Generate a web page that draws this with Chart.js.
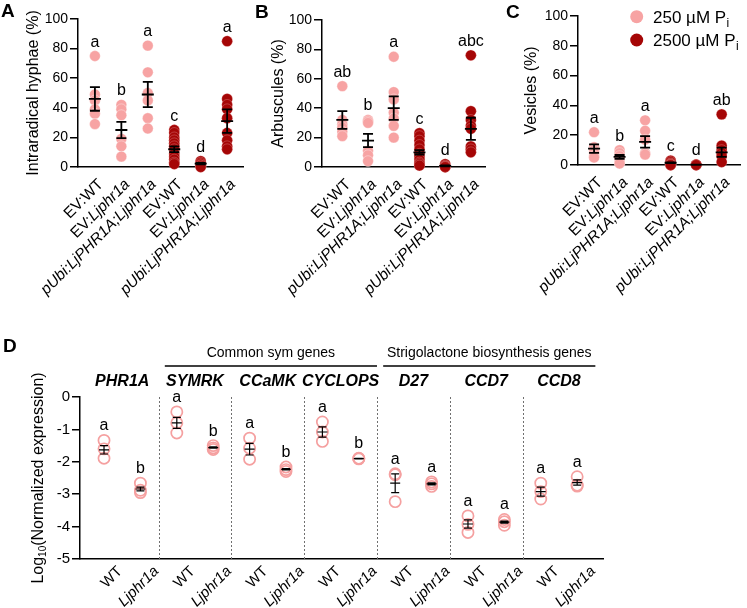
<!DOCTYPE html>
<html>
<head>
<meta charset="utf-8">
<script src="https://cdn.jsdelivr.net/npm/chart.js@4.4.1/dist/chart.umd.min.js"></script>
<style>
html,body{margin:0;padding:0;background:#fff;}
#wrap{position:relative;width:747px;height:608px;overflow:hidden;background:#fff;}
canvas{position:absolute;}
</style>
</head>
<body>
<div id="wrap">
<canvas id="cA" width="252" height="302" style="left:0px;top:0px;"></canvas>
<canvas id="cB" width="240" height="302" style="left:252px;top:0px;"></canvas>
<canvas id="cC" width="247" height="302" style="left:500px;top:0px;"></canvas>
<canvas id="cD" width="747" height="308" style="left:0px;top:300px;"></canvas>
</div>
<script>
// ---------------- data ----------------
const categories = ['EV:WT', 'EV:Ljphr1a', 'pUbi:LjPHR1A;Ljphr1a', 'EV:WT', 'EV:Ljphr1a', 'pUbi:LjPHR1A;Ljphr1a'];
const yTicksPercent = [0, 20, 40, 60, 80, 100];
const legendLabels = ['250 µM P', '2500 µM P'];
const legendSub = 'i';

// Panel A: intraradical hyphae (%)
const hyphae250 = [[75, 49, 45, 39, 36, 29], [42, 39, 35, 19, 14, 7], [82, 64, 50, 45, 33, 26]];
const hyphae2500 = [[25, 23, 20, 18, 16, 14, 12, 9, 7, 5, 3, 2], [4, 3, 2, 1, 1, 0], [85, 46, 42, 39, 33, 23, 18, 14, 12]];
const hyphaeMean = [46, 25, 49, 12, 2.3, 31];
const hyphaeSem = [8, 5.5, 8.5, 2, 0.5, 8];
const hyphaeLetters = ['a', 'b', 'a', 'c', 'd', 'a'];

// Panel B: arbuscules (%)
const arb250 = [[55, 32, 29, 27, 24, 21], [32, 31, 30, 11, 8, 4], [75, 51, 46, 37, 33, 28, 20]];
const arb2500 = [[23, 21, 18, 15, 12, 9, 7, 5, 3, 2, 1], [2, 1, 0.5, 0, 0], [76, 38, 32, 28, 26, 14, 12, 10]];
const arbMean = [32, 18, 40, 10, 0.8, 26];
const arbSem = [6, 4.5, 8, 1.5, 0.3, 7.5];
const arbLetters = ['ab', 'b', 'a', 'c', 'd', 'abc'];

// Panel C: vesicles (%)
const ves250 = [[22, 12, 10, 8, 6, 5], [10, 8, 6, 4, 2, 1], [30, 23, 17, 8, 7]];
const ves2500 = [[3, 2, 1, 0.5, 0, 0], [0.3, 0.2, 0, 0], [34, 13, 10, 8, 6, 2]];
const vesMean = [11, 5.4, 15.5, 1.5, 0.2, 8.5];
const vesSem = [2.8, 1.3, 3.9, 0.3, 0.1, 3.1];
const vesLetters = ['a', 'b', 'a', 'c', 'd', 'ab'];

// Panel D: log10 normalized expression
const genes = ['PHR1A', 'SYMRK', 'CCaMK', 'CYCLOPS', 'D27', 'CCD7', 'CCD8'];
const genotypes = ['WT', 'Ljphr1a'];
const geneGroupLabels = ['Common sym genes', 'Strigolactone biosynthesis genes'];
const geneGroupFirst = [1, 4];
const geneGroupLast = [3, 6];
const yTicksExpr = [0, -1, -2, -3, -4, -5];
const exprWT = [[-1.34, -1.60, -1.89], [-0.46, -0.80, -1.11], [-1.27, -1.58, -1.92], [-0.77, -1.08, -1.37], [-2.37, -2.40, -3.23], [-3.67, -3.93, -4.18], [-2.66, -2.92, -3.15]];
const exprMut = [[-2.66, -2.88, -2.95], [-1.50, -1.57, -1.62], [-2.16, -2.24, -2.30], [-1.89, -1.90, -1.91], [-2.62, -2.68, -2.76], [-3.78, -3.85, -3.96], [-2.46, -2.72, -2.75]];
const exprMeanWT = [-1.63, -0.80, -1.61, -1.08, -2.66, -3.92, -2.92];
const exprSemWT = [0.13, 0.17, 0.18, 0.16, 0.29, 0.13, 0.14];
const exprMeanMut = [-2.84, -1.56, -2.23, -1.90, -2.68, -3.86, -2.64];
const exprSemMut = [0.06, 0.02, 0.02, 0.01, 0.03, 0.03, 0.08];
const lettersWT = ['a', 'a', 'a', 'a', 'a', 'a', 'a'];
const lettersMut = ['b', 'b', 'b', 'b', 'a', 'a', 'a'];

// ---------------- style ----------------
const FONT = "'Liberation Sans', Arial, Helvetica, sans-serif";
const LIGHT = '#F7A3A3';
const DARK = '#A50606';
const OPEN = '#F5A0A0';
Chart.defaults.font.family = FONT;
Chart.defaults.color = '#000';
Chart.defaults.animation = false;

function fnt(size, bold, italic) {
  return (italic ? 'italic ' : '') + (bold ? 'bold ' : '') + size + 'px ' + FONT;
}

function labelParts(label) {
  const idx = label.indexOf(':');
  const pre = label.slice(0, idx);
  if (pre === 'EV') {
    const rest = label.slice(idx + 1);
    return [['EV:', false], [rest, rest !== 'WT']];
  }
  return [[label, true]];
}

function drawRotLabel(ctx, parts, x, y, size) {
  ctx.save();
  ctx.translate(x, y);
  ctx.rotate(-Math.PI / 4);
  ctx.textBaseline = 'middle';
  ctx.textAlign = 'left';
  ctx.fillStyle = '#000';
  const widths = parts.map(([t, it]) => { ctx.font = fnt(size, false, it); return ctx.measureText(t).width; });
  const total = widths.reduce((a, b) => a + b, 0);
  let cx = -total;
  parts.forEach(([t, it], k) => { ctx.font = fnt(size, false, it); ctx.fillText(t, cx, 0); cx += widths[k]; });
  ctx.restore();
}

function drawErrorBars(chart, xs, means, sems, lw, cap, meanW) {
  const {ctx, scales: {x, y}} = chart;
  ctx.save();
  ctx.strokeStyle = '#000';
  ctx.lineWidth = lw;
  means.forEach((m, i) => {
    const px = x.getPixelForValue(xs[i]);
    const yt = y.getPixelForValue(m + sems[i]);
    const yb = y.getPixelForValue(m - sems[i]);
    const ym = y.getPixelForValue(m);
    ctx.beginPath();
    ctx.moveTo(px, yt); ctx.lineTo(px, yb);
    ctx.moveTo(px - cap, yt); ctx.lineTo(px + cap, yt);
    ctx.moveTo(px - cap, yb); ctx.lineTo(px + cap, yb);
    ctx.moveTo(px - meanW, ym); ctx.lineTo(px + meanW, ym);
    ctx.stroke();
  });
  ctx.restore();
}

function drawLetters(chart, xs, groups, letters, size, off) {
  const {ctx, scales: {x, y}} = chart;
  ctx.save();
  ctx.font = fnt(size);
  ctx.fillStyle = '#000';
  ctx.textAlign = 'center';
  ctx.textBaseline = 'alphabetic';
  groups.forEach((vals, i) => {
    const top = Math.max(...vals);
    ctx.fillText(letters[i], x.getPixelForValue(xs[i]), y.getPixelForValue(top) - off);
  });
  ctx.restore();
}

function drawPanelLetter(ctx, letter, x, y) {
  ctx.save();
  ctx.font = fnt(19, true);
  ctx.fillStyle = '#000';
  ctx.textAlign = 'left';
  ctx.textBaseline = 'alphabetic';
  ctx.fillText(letter, x, y);
  ctx.restore();
}

function pctPanel(id, g, low, high, means, sems, letters, title) {
  const nLow = low.length;
  const data250 = low.flatMap((vals, i) => vals.map(v => ({x: i, y: v})));
  const data2500 = high.flatMap((vals, i) => vals.map(v => ({x: i + nLow, y: v})));
  const xs = categories.map((c, i) => i);
  const groups = low.concat(high);
  new Chart(document.getElementById(id), {
    type: 'scatter',
    data: {datasets: [
      {data: data250, backgroundColor: LIGHT, borderColor: 'rgba(255,255,255,0.45)', borderWidth: 0.8, pointRadius: 5.4, pointHoverRadius: 5.4, clip: false},
      {data: data2500, backgroundColor: DARK, borderColor: 'rgba(255,200,200,0.35)', borderWidth: 0.8, pointRadius: 5.4, pointHoverRadius: 5.4, clip: false}
    ]},
    options: {
      responsive: false, animation: false, events: [],
      layout: {padding: {left: 0, right: g.pr, top: g.pt, bottom: g.pb}},
      plugins: {legend: {display: false}, tooltip: {enabled: false}},
      scales: {
        x: {type: 'linear', min: g.xmin, max: g.xmax, ticks: {display: false}, grid: {display: false},
            border: {display: true, color: '#000', width: 1.6}, afterFit: s => { s.height = 0; }},
        y: {min: 0, max: 100,
            afterBuildTicks: s => { s.ticks = yTicksPercent.map(v => ({value: v})); },
            ticks: {font: {size: 14}, padding: 2, color: '#000'},
            grid: {drawOnChartArea: false, drawTicks: true, tickLength: 8, color: '#000', lineWidth: 1.5},
            border: {color: '#000', width: 1.5},
            title: {display: true, text: title, font: {size: 16}, color: '#000', padding: {top: g.tp, bottom: 0}},
            afterFit: s => { s.width = g.yw; }}
      }
    },
    plugins: [{
      id: 'extras' + id,
      afterDatasetsDraw(chart) {
        drawErrorBars(chart, xs, means, sems, 1.8, 5, 6);
        drawLetters(chart, xs, groups, letters, 16, 9.5);
      },
      afterDraw(chart) {
        const ctx = chart.ctx;
        const xS = chart.scales.x;
        const bottom = chart.chartArea.bottom;
        categories.forEach((c, i) => {
          drawRotLabel(ctx, labelParts(c), xS.getPixelForValue(i) + 6, bottom + 15, 15.5);
        });
        drawPanelLetter(ctx, g.letter, g.lx, g.ly);
        if (g.legend) {
          legendLabels.forEach((t, k) => {
            const cy = g.legend.y + k * g.legend.dy;
            ctx.save();
            ctx.beginPath();
            ctx.arc(g.legend.x, cy, 6.5, 0, Math.PI * 2);
            ctx.fillStyle = k === 0 ? LIGHT : DARK;
            ctx.fill();
            ctx.fillStyle = '#000';
            ctx.textBaseline = 'alphabetic';
            ctx.textAlign = 'left';
            ctx.font = fnt(17);
            ctx.fillText(t, g.legend.tx, cy + 6);
            const w = ctx.measureText(t).width;
            ctx.font = fnt(12);
            ctx.fillText(legendSub, g.legend.tx + w + 0.5, cy + 10);
            ctx.restore();
          });
        }
      }
    }]
  });
}

pctPanel('cA', {pr: 9, pt: 19, pb: 135, xmin: -0.64, xmax: 5.6, yw: 78, tp: 24.4, letter: 'A', lx: 1, ly: 17},
  hyphae250, hyphae2500, hyphaeMean, hyphaeSem, hyphaeLetters, 'Intraradical hyphae (%)');
pctPanel('cB', {pr: 4, pt: 20, pb: 135, xmin: -0.79, xmax: 5.58, yw: 70, tp: 17.4, letter: 'B', lx: 3, ly: 18},
  arb250, arb2500, arbMean, arbSem, arbLetters, 'Arbuscules (%)');
pctPanel('cC', {pr: 1, pt: 16, pb: 137, xmin: -0.63, xmax: 5.75, yw: 78, tp: 22.4, letter: 'C', lx: 6, ly: 18,
  legend: {x: 136.7, y: 16.7, dy: 23.3, tx: 153}},
  ves250, ves2500, vesMean, vesSem, vesLetters, 'Vesicles (%)');

// ---------------- panel D ----------------
(function () {
  const dataWT = exprWT.flatMap((vals, gi) => vals.map(v => ({x: 2 * gi, y: v})));
  const dataMut = exprMut.flatMap((vals, gi) => vals.map(v => ({x: 2 * gi + 1, y: v})));
  const xsWT = genes.map((g, i) => 2 * i);
  const xsMut = genes.map((g, i) => 2 * i + 1);
  new Chart(document.getElementById('cD'), {
    type: 'scatter',
    data: {datasets: [
      {data: dataWT, backgroundColor: 'rgba(0,0,0,0)', borderColor: OPEN, borderWidth: 1.7, pointRadius: 5.6, pointHoverRadius: 5.6, clip: false},
      {data: dataMut, backgroundColor: 'rgba(0,0,0,0)', borderColor: OPEN, borderWidth: 1.7, pointRadius: 5.6, pointHoverRadius: 5.6, clip: false}
    ]},
    options: {
      responsive: false, animation: false, events: [],
      layout: {padding: {left: 0, right: 144, top: 97, bottom: 49}},
      plugins: {legend: {display: false}, tooltip: {enabled: false}},
      scales: {
        x: {type: 'linear', min: -0.66, max: 13.71, ticks: {display: false}, grid: {display: false},
            border: {display: true, color: '#000', width: 1.6}, afterFit: s => { s.height = 0; }},
        y: {min: -5, max: 0,
            afterBuildTicks: s => { s.ticks = yTicksExpr.map(v => ({value: v})); },
            ticks: {font: {size: 15}, padding: 2, color: '#000'},
            grid: {drawOnChartArea: false, drawTicks: true, tickLength: 8, color: '#000', lineWidth: 1.5},
            border: {color: '#000', width: 1.5},
            afterFit: s => { s.width = 80; }}
      }
    },
    plugins: [{
      id: 'extrasD',
      beforeDatasetsDraw(chart) {
        const {ctx, chartArea, scales: {x}} = chart;
        ctx.save();
        ctx.strokeStyle = '#707070';
        ctx.lineWidth = 1;
        ctx.setLineDash([2, 2]);
        for (let i = 1; i < genes.length; i++) {
          const px = Math.round(x.getPixelForValue(2 * i - 0.5)) + 0.5;
          ctx.beginPath();
          ctx.moveTo(px, chartArea.top);
          ctx.lineTo(px, chartArea.bottom);
          ctx.stroke();
        }
        ctx.restore();
      },
      afterDatasetsDraw(chart) {
        drawErrorBars(chart, xsWT, exprMeanWT, exprSemWT, 1.2, 4, 5);
        drawErrorBars(chart, xsMut, exprMeanMut, exprSemMut, 1.2, 4, 5);
        drawLetters(chart, xsWT, exprWT, lettersWT, 16, 10);
        drawLetters(chart, xsMut, exprMut, lettersMut, 16, 10);
      },
      afterDraw(chart) {
        const {ctx, chartArea, scales: {x}} = chart;
        const bottom = chartArea.bottom;
        // x labels
        genes.forEach((g, gi) => {
          genotypes.forEach((gt, k) => {
            drawRotLabel(ctx, [[gt, gt !== 'WT']], x.getPixelForValue(2 * gi + k) + 16, bottom + 10, 15);
          });
        });
        // gene names
        ctx.save();
        ctx.font = fnt(16, true, true);
        ctx.fillStyle = '#000';
        ctx.textAlign = 'center';
        ctx.textBaseline = 'middle';
        genes.forEach((g, gi) => ctx.fillText(g, x.getPixelForValue(2 * gi + 0.5), 82));
        ctx.restore();
        // group headers
        ctx.save();
        geneGroupLabels.forEach((t, k) => {
          const x1 = x.getPixelForValue(2 * geneGroupFirst[k] - 0.33);
          const x2 = x.getPixelForValue(2 * geneGroupLast[k] + 1.5);
          ctx.strokeStyle = '#000';
          ctx.lineWidth = 1.6;
          ctx.beginPath();
          ctx.moveTo(x1, 66);
          ctx.lineTo(x2, 66);
          ctx.stroke();
          ctx.font = fnt(14);
          ctx.fillStyle = '#000';
          ctx.textAlign = 'center';
          ctx.textBaseline = 'middle';
          ctx.fillText(t, (x1 + x2) / 2, 53);
        });
        ctx.restore();
        // y title with subscript
        ctx.save();
        ctx.translate(39, (chartArea.top + chartArea.bottom) / 2);
        ctx.rotate(-Math.PI / 2);
        ctx.fillStyle = '#000';
        ctx.textBaseline = 'middle';
        ctx.textAlign = 'left';
        const parts = [['Log', 16, 0], ['10', 10, 4], ['(Normalized expression)', 16, 0]];
        const widths = parts.map(([t, s]) => { ctx.font = fnt(s); return ctx.measureText(t).width; });
        let cx = -widths.reduce((a, b) => a + b, 0) / 2;
        parts.forEach(([t, s, dy], k) => { ctx.font = fnt(s); ctx.fillText(t, cx, dy); cx += widths[k]; });
        ctx.restore();
        drawPanelLetter(ctx, 'D', 3, 52);
      }
    }]
  });
})();
</script>
</body>
</html>
